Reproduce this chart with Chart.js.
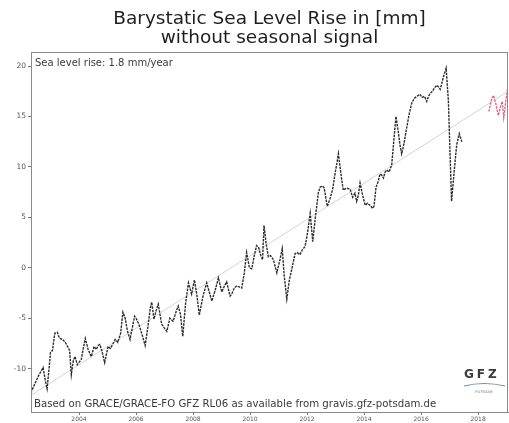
<!DOCTYPE html>
<html>
<head>
<meta charset="utf-8">
<script src="https://cdn.jsdelivr.net/npm/chart.js@4/dist/chart.umd.min.js"></script>
<style>
  html, body { margin: 0; padding: 0; background: #fff; }
  .wrap { width: 509px; height: 423px; position: relative; }
</style>
</head>
<body>
<div class="wrap"><canvas class="jsSeaLevelChart"></canvas></div>
<script>
'use strict';

// GRACE monthly solution (black) and GRACE-FO (red), mm
let graceYears = [
  2002.31, 2002.45, 2002.60, 2002.74, 2002.82, 2002.88, 2002.95, 2003.00, 2003.07, 2003.15,
  2003.24, 2003.32, 2003.42, 2003.52, 2003.60, 2003.67, 2003.73, 2003.80, 2003.86, 2003.94,
  2004.02, 2004.08, 2004.15, 2004.22, 2004.32, 2004.43, 2004.53, 2004.61, 2004.67, 2004.73,
  2004.80, 2004.90, 2005.02, 2005.10, 2005.18, 2005.27, 2005.36, 2005.46, 2005.54, 2005.62,
  2005.70, 2005.79, 2005.88, 2005.95, 2006.02, 2006.10, 2006.20, 2006.32, 2006.42, 2006.50,
  2006.55, 2006.63, 2006.70, 2006.78, 2006.90, 2007.00, 2007.08, 2007.19, 2007.30, 2007.40,
  2007.48, 2007.56, 2007.64, 2007.74, 2007.84, 2007.95, 2008.05, 2008.14, 2008.22, 2008.35,
  2008.48, 2008.57, 2008.66, 2008.78, 2008.89, 2009.01, 2009.10, 2009.18, 2009.30, 2009.36,
  2009.45, 2009.53, 2009.62, 2009.71, 2009.80, 2009.88, 2009.98, 2010.06, 2010.15, 2010.23,
  2010.30, 2010.38, 2010.44, 2010.49, 2010.56, 2010.64, 2010.72, 2010.82, 2010.94, 2011.05,
  2011.13, 2011.20, 2011.29, 2011.38, 2011.46, 2011.58, 2011.66, 2011.75, 2011.84, 2011.93,
  2012.02, 2012.11, 2012.20, 2012.30, 2012.40, 2012.46, 2012.55, 2012.60, 2012.71, 2012.80,
  2012.90, 2012.98, 2013.05, 2013.10, 2013.18, 2013.27, 2013.38, 2013.51, 2013.60, 2013.68,
  2013.74, 2013.80, 2013.86, 2013.95, 2014.04, 2014.12, 2014.21, 2014.30, 2014.35, 2014.42,
  2014.50, 2014.56, 2014.62, 2014.68, 2014.74, 2014.80, 2014.88, 2014.97, 2015.05, 2015.12,
  2015.20, 2015.26, 2015.32, 2015.40, 2015.49, 2015.58, 2015.67, 2015.76, 2015.85, 2015.96,
  2016.04, 2016.12, 2016.20, 2016.26, 2016.32, 2016.40, 2016.46, 2016.55, 2016.62, 2016.67,
  2016.73, 2016.78, 2016.88, 2016.96, 2017.02, 2017.07, 2017.16, 2017.25, 2017.34, 2017.43
];
let graceValues = [
  -12.4, -11.5, -10.6, -9.9, -11.2, -12.0, -10.0, -8.4, -8.2, -6.5,
  -6.4, -7.0, -7.1, -7.4, -7.8, -8.2, -10.6, -9.2, -8.8, -9.6,
  -9.3, -9.1, -8.0, -7.0, -8.1, -8.8, -7.8, -8.1, -7.7, -7.6,
  -8.2, -9.4, -7.8, -8.0, -7.6, -7.1, -7.4, -6.5, -4.4, -5.0,
  -6.3, -7.1, -5.8, -4.8, -5.1, -5.6, -6.5, -7.7, -5.8, -4.0,
  -3.4, -5.1, -4.3, -3.6, -5.6, -6.0, -6.3, -5.0, -5.3, -4.4,
  -3.8, -4.6, -6.8, -3.5, -1.5, -2.6, -1.2, -2.8, -4.7, -2.8,
  -1.5, -2.4, -3.3, -2.2, -1.0, -2.4, -1.8, -1.4, -2.8, -2.6,
  -2.0, -1.8, -1.9, -2.0, -0.5, 1.5, 0.0, -0.1, 1.2, 2.2,
  2.0, 1.2, 0.8, 4.2, 2.5, 1.1, 1.2, 0.8, -0.5, 0.8,
  1.9, -0.8, -3.1, -1.2, -0.2, 1.4, 1.5, 1.3, 1.8, 2.1,
  3.5, 5.4, 2.6, 5.2, 7.5, 8.0, 8.1, 7.9, 6.1, 6.8,
  7.8, 9.3, 10.4, 11.3, 9.5, 7.7, 7.9, 7.8, 7.0, 7.4,
  6.6, 7.2, 8.4, 7.2, 6.2, 6.4, 6.2, 5.9, 6.1, 8.0,
  8.6, 9.3, 9.2, 8.9, 9.5, 9.7, 9.5, 10.2, 12.8, 15.0,
  13.5, 12.2, 11.3, 12.3, 13.8, 15.2, 16.3, 16.8, 17.0, 17.2,
  16.9, 17.0, 16.5, 17.0, 17.3, 17.5, 17.8, 18.1, 17.9, 17.7,
  18.3, 18.9, 19.8, 16.5, 11.0, 6.6, 9.5, 12.2, 13.3, 12.5
];

let graceFoYears = [2018.38, 2018.46, 2018.54, 2018.62, 2018.71, 2018.79, 2018.85, 2018.90, 2018.97, 2019.05];
let graceFoValues = [15.5, 16.6, 17.1, 16.3, 15.1, 16.0, 16.5, 14.9, 16.5, 18.0];

// linear trend, 1.8 mm/year
let trendYears = [2002.32, 2019.05];
let trendValues = [-12.63, 17.49];

let yearTicks = [2004, 2006, 2008, 2010, 2012, 2014, 2016, 2018];
let mmTicks = [-10, -5, 0, 5, 10, 15, 20];

let titleLines = ['Barystatic Sea Level Rise in [mm]', 'without seasonal signal'];
let rateText = 'Sea level rise: 1.8 mm/year';
let sourceText = 'Based on GRACE/GRACE-FO GFZ RL06 as available from gravis.gfz-potsdam.de';

function toPoints(xs, ys) {
  return xs.map((x, i) => ({x: x, y: ys[i]}));
}

// box round the plot + the texts written inside it
const frameAndNotes = {
  id: 'frameAndNotes',
  afterDraw(chart) {
    let ctx = chart.ctx,
      a = chart.chartArea;

    ctx.save();
    ctx.strokeStyle = '#8a8a8a';
    ctx.lineWidth = 1;
    ctx.strokeRect(a.left + 0.5, a.top + 0.5, a.right - a.left - 1, a.bottom - a.top);

    ctx.fillStyle = '#3a3a3a';
    ctx.textBaseline = 'alphabetic';
    ctx.textAlign = 'left';
    ctx.font = '10px "DejaVu Sans"';
    ctx.fillText(rateText, a.left + 4, a.top + 14);

    ctx.font = '10.2px "DejaVu Sans"';
    ctx.fillText(sourceText, a.left + 3, a.bottom - 5);

    // GFZ logo
    ctx.font = 'bold 12px "DejaVu Sans"';
    ctx.fillStyle = '#3a3a3a';
    ctx.letterSpacing = '3px';
    ctx.fillText('GFZ', 464, 378);
    ctx.letterSpacing = '0px';
    ctx.strokeStyle = '#6f8fb8';
    ctx.lineWidth = 1.2;
    ctx.beginPath();
    ctx.moveTo(464, 386);
    ctx.quadraticCurveTo(484, 381, 505, 386);
    ctx.stroke();
    ctx.textAlign = 'center';
    ctx.font = '3.5px "DejaVu Sans"';
    ctx.fillStyle = '#777';
    ctx.fillText('POTSDAM', 484, 393);
    ctx.restore();
  }
};

function buildSeaLevelChart() {
  let ctx = document.querySelector('.jsSeaLevelChart');

  new Chart(ctx, {
    type: 'line',
    data: {
      datasets: [{
        data: toPoints(graceYears, graceValues),
        borderColor: '#2b2b2b',
        borderWidth: 1.4,
        borderDash: [2.5, 1],
        pointRadius: 0,
        tension: 0,
        order: 1
      }, {
        data: toPoints(graceFoYears, graceFoValues),
        borderColor: '#e0607c',
        borderWidth: 1.3,
        borderDash: [2.5, 1],
        pointRadius: 0,
        order: 1
      }, {
        data: toPoints(trendYears, trendValues),
        borderColor: '#d4d4d4',
        borderWidth: 1,
        pointRadius: 0,
        order: 3
      }]
    },
    options: {
      responsive: true,
      maintainAspectRatio: false,
      animation: false,
      layout: {padding: {left: 0, right: 1, top: 0, bottom: 0}},
      plugins: {
        legend: {display: false},
        tooltip: {enabled: false},
        title: {
          display: true,
          text: titleLines,
          fullSize: false,
          color: '#1e1e1e',
          font: {family: 'DejaVu Sans', size: 18.5, weight: 'normal', lineHeight: 1.0},
          padding: {top: 10, bottom: 5}
        }
      },
      scales: {
        x: {
          type: 'linear',
          min: 2002.316,
          max: 2019.05,
          afterBuildTicks(scale) { scale.ticks = yearTicks.map(v => ({value: v})); },
          afterFit(scale) { scale.height = 11; },
          grid: {display: true, drawOnChartArea: false, tickLength: 3, color: '#777'},
          border: {display: true, color: '#8a8a8a'},
          ticks: {
            color: '#555',
            font: {family: 'DejaVu Sans', size: 6},
            padding: 1,
            maxRotation: 0,
            callback: v => String(v)
          }
        },
        y: {
          min: -14.3,
          max: 21.4,
          afterBuildTicks(scale) { scale.ticks = mmTicks.map(v => ({value: v})); },
          afterFit(scale) { scale.width = 31; },
          grid: {display: true, drawOnChartArea: false, tickLength: 3, color: '#777'},
          border: {display: true, color: '#8a8a8a'},
          ticks: {
            color: '#555',
            font: {family: 'DejaVu Sans', size: 7.5},
            padding: 2
          }
        }
      }
    },
    plugins: [frameAndNotes]
  });
}

buildSeaLevelChart();
</script>
</body>
</html>
